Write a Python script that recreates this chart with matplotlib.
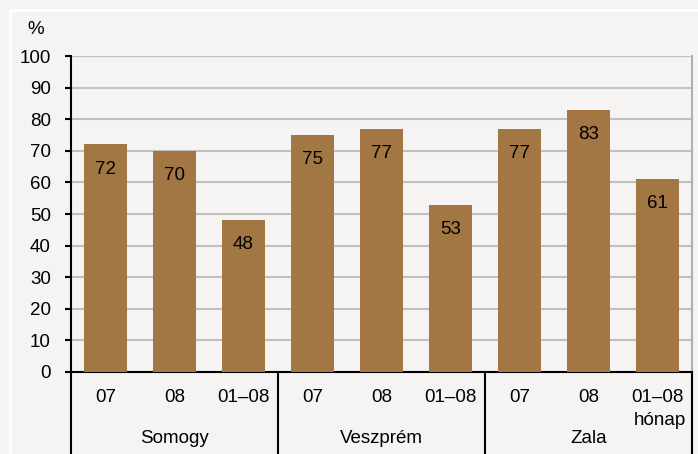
import matplotlib.pyplot as plt
from matplotlib.patches import Rectangle
import matplotlib.transforms as mtransforms

plt.rcParams['font.family'] = ['Liberation Sans', 'DejaVu Sans']

months = ['07', '08', '01–08', '07', '08', '01–08', '07', '08', '01–08']
groups = ['Somogy', 'Veszprém', 'Zala']
values = [72, 70, 48, 75, 77, 53, 77, 83, 61]

bg = '#f5f4f2'
bar_color = '#a37744'
fs = 13.5

fig = plt.figure(figsize=(6.98, 4.54), dpi=100, facecolor=bg)
ax = fig.add_axes([71/698, 1 - 372/454, (692-71)/698, (372-56)/454])
ax.set_facecolor(bg)

# white frame
fig.patches.append(Rectangle((10/698, -0.1), 1.2, 1 - 10/454 + 0.1, transform=fig.transFigure,
                             fill=False, edgecolor='white', linewidth=2, zorder=0))

x = list(range(len(values)))
ax.bar(x, values, width=0.62, color=bar_color, zorder=3)
for xi, v in zip(x, values):
    ax.text(xi, v - 7.8, str(v), ha='center', va='center', fontsize=fs, zorder=4)

ax.set_xlim(-0.5, 8.5)
ax.set_ylim(0, 100)
ax.set_yticks(range(0, 101, 10))
ax.tick_params(axis='y', labelsize=fs, length=4.5, width=1.5, direction='out', pad=10)
ax.set_xticks([])
ax.grid(axis='y', color='#c0c0c0', linewidth=1.5, zorder=0)
ax.axhline(100, color='#a0a0a0', linewidth=1.5, zorder=1)

ax.spines['top'].set_visible(False)
ax.spines['right'].set_color('#b0b0b0')
ax.spines['right'].set_linewidth(1.5)
ax.spines['left'].set_linewidth(1.5)
ax.spines['bottom'].set_linewidth(1.5)

# category labels below the axis
trans = mtransforms.blended_transform_factory(ax.transData, ax.transAxes)
for xi, m in zip(x, months):
    ax.text(xi, -0.082, m, ha='center', va='center', fontsize=fs, transform=trans)
ax.text(8.04, -0.155, 'hónap', ha='center', va='center', fontsize=fs, transform=trans)
for i, g in enumerate(groups):
    ax.text(3 * i + 1, -0.21, g, ha='center', va='center', fontsize=fs, transform=trans)

for sx in [-0.5, 2.5, 5.5, 8.5]:
    ax.plot([sx, sx], [0, -0.3], color='black', linewidth=1.5, transform=trans, clip_on=False)

fig.text(35.5/698, 1 - 30/454, '%', ha='center', va='center', fontsize=fs)

fig.savefig('out.png', dpi=100, facecolor=bg)
